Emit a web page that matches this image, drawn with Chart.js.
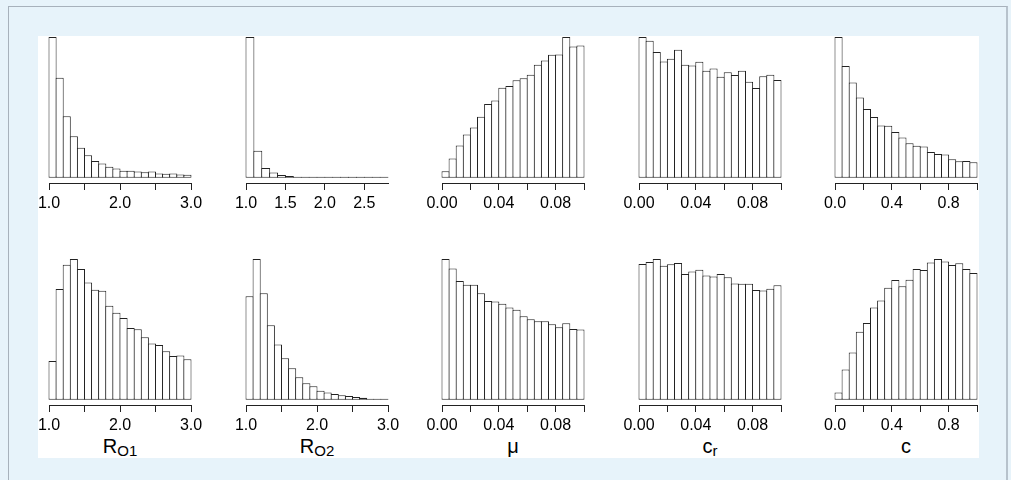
<!DOCTYPE html>
<html>
<head>
<meta charset="utf-8">
<script src="https://cdn.jsdelivr.net/npm/chart.js@4.4.0/dist/chart.umd.min.js"></script>
<style>
  html, body { margin:0; padding:0; background:#e7f3fa; width:1011px; height:480px; overflow:hidden; font-family:'Liberation Sans', Arial, sans-serif; }
  #frame { position:absolute; left:8px; top:6px; width:997px; height:520px; border-top:1px solid #a7b1bb; border-left:1px solid #a7b1bb; border-right:2px solid #b7c2cc; }
  #plot { position:absolute; left:38px; top:36px; width:941px; height:422px; background:#fff; }
  .xlab { position:absolute; width:142px; top:436px; text-align:center; font-size:20px; line-height:20px; color:#000; }
  .xlab sub { font-size:15px; vertical-align:baseline; position:relative; top:3px; }
</style>
</head>
<body>
<div id="frame"></div>
<div id="plot"></div>
<script>
// ==================== Dados ====================
// alturas relativas das barras (maior barra de cada painel = 100)
const topRO1 = [100, 71.0, 43.6, 29.5, 21.2, 16.0, 11.8, 10.1, 7.7, 6.5, 4.9, 4.9, 4.4, 3.8, 4.3, 3.0, 2.8, 3.0, 2.3, 2.0];
const topRO2 = [100, 19.2, 6.8, 3.6, 1.9, 1.2, 0.7, 0.5, 0.3, 0.2, 0.2, 0.1, 0.1, 0.1, 0.05, 0.05, 0.05, 0.05];
const topMu  = [4.5, 13.6, 22.9, 30.7, 35.7, 43.3, 52.4, 54.8, 64.0, 65.2, 69.3, 70.7, 73.1, 80.2, 83.3, 87.4, 87.6, 100, 93.3, 94.0];
const topCr  = [100, 97.4, 89.3, 82.6, 84.5, 91.0, 80.2, 79.8, 82.4, 76.0, 77.6, 71.7, 75.0, 72.9, 76.0, 68.1, 63.8, 72.1, 73.1, 69.5];
const topC   = [100, 79.3, 67.6, 56.9, 48.8, 43.1, 37.1, 36.9, 32.4, 28.6, 24.5, 22.6, 22.1, 18.3, 16.9, 16.4, 13.1, 11.7, 11.9, 11.0];

const botRO1 = [27.4, 78.6, 96.0, 100, 92.9, 83.3, 78.1, 77.4, 66.7, 61.7, 58.1, 51.0, 50.0, 44.3, 40.0, 38.8, 34.5, 31.0, 31.4, 28.8];
const botRO2 = [73.6, 100, 75.7, 52.9, 39.3, 29.5, 22.4, 16.0, 11.7, 9.5, 6.4, 5.0, 4.0, 3.1, 2.6, 1.9, 1.4, 0.7, 0.5, 0.2];
const botMu  = [100, 93.3, 84.3, 81.7, 81.7, 75.7, 70.2, 69.8, 68.1, 65.5, 64.0, 59.3, 57.1, 55.7, 55.7, 53.6, 51.4, 54.3, 50.2, 49.8];
const botCr  = [96.4, 97.9, 100, 95.2, 96.2, 97.1, 89.3, 91.2, 92.4, 88.3, 87.6, 89.3, 87.1, 82.6, 82.4, 82.4, 77.9, 77.6, 78.8, 81.4];
const botC   = [5.0, 21.4, 33.6, 48.3, 54.5, 65.5, 70.5, 79.5, 85.0, 80.7, 85.2, 92.9, 92.1, 97.6, 100, 98.3, 95.7, 96.9, 92.9, 90.0];

// ticks
const ticksR = [1.0, 1.5, 2.0, 2.5, 3.0];
const labelsR = ['1.0', '', '2.0', '', '3.0'];
const ticksR2 = [1.0, 1.5, 2.0, 2.5];
const labelsR2 = ['1.0', '1.5', '2.0', '2.5'];
const ticksSmall = [0, 0.02, 0.04, 0.06, 0.08, 0.10];
const labelsSmall = ['0.00', '', '0.04', '', '0.08', ''];
const ticksC = [0, 0.2, 0.4, 0.6, 0.8, 1.0];
const labelsC = ['0.0', '', '0.4', '', '0.8', ''];

// ==================== Layout ====================
const PANEL_W = 142;
const PAD = 20;
const AXIS_H = 30;
const Y_GAP = 3.8;
const COLS = [49, 246, 442, 639, 835];
const ROWS = [{ top: 37, bottom: 183 }, { top: 259, bottom: 405 }];
const FONT = "'Liberation Sans', Arial, sans-serif";
const LINE = '#222';

const paineis = [
  { col: 0, row: 0, values: topRO1, min: 1, max: 3,   ticks: ticksR,  labels: labelsR },
  { col: 1, row: 0, values: topRO2, min: 1, max: 2.8, ticks: ticksR2, labels: labelsR2 },
  { col: 2, row: 0, values: topMu,  min: 0, max: 0.1, ticks: ticksSmall, labels: labelsSmall },
  { col: 3, row: 0, values: topCr,  min: 0, max: 0.1, ticks: ticksSmall, labels: labelsSmall },
  { col: 4, row: 0, values: topC,   min: 0, max: 1,   ticks: ticksC,  labels: labelsC },
  { col: 0, row: 1, values: botRO1, min: 1, max: 3,   ticks: ticksR,  labels: labelsR, title: 'R<sub>O1</sub>' },
  { col: 1, row: 1, values: botRO2, min: 1, max: 3,   ticks: ticksR,  labels: labelsR, title: 'R<sub>O2</sub>' },
  { col: 2, row: 1, values: botMu,  min: 0, max: 0.1, ticks: ticksSmall, labels: labelsSmall, title: 'μ' },
  { col: 3, row: 1, values: botCr,  min: 0, max: 0.1, ticks: ticksSmall, labels: labelsSmall, title: 'c<sub>r</sub>' },
  { col: 4, row: 1, values: botC,   min: 0, max: 1,   ticks: ticksC,  labels: labelsC, title: 'c' }
];

// ==================== Render ====================
function desenharPainel(p) {
  const row = ROWS[p.row];
  const left = COLS[p.col];
  const w = PANEL_W + 2 * PAD;
  const h = row.bottom - row.top + AXIS_H;

  const canvas = document.createElement('canvas');
  canvas.width = w;
  canvas.height = h;
  canvas.style.cssText = `position:absolute;left:${left - PAD}px;top:${row.top}px;width:${w}px;height:${h}px`;
  document.body.appendChild(canvas);

  // barras um pixel mais largas, para que as bordas vizinhas se sobreponham
  const binW = PANEL_W / p.values.length;
  new Chart(canvas, {
    type: 'bar',
    data: {
      labels: p.values.map((_, i) => i),
      datasets: [{
        data: p.values,
        xAxisID: 'x', yAxisID: 'y',
        backgroundColor: '#fff',
        borderColor: LINE,
        borderWidth: 1,
        borderSkipped: false,
        barPercentage: (binW + 1) / binW, categoryPercentage: 1,
        minBarLength: 1,
        clip: false
      }]
    },
    options: {
      responsive: false, animation: false, events: [],
      layout: { padding: { left: PAD, right: PAD, top: 0, bottom: 0 } },
      plugins: { legend: { display: false }, tooltip: { enabled: false } },
      scales: {
        x: { type: 'category', display: false, offset: true },
        y: { display: false, min: -Y_GAP, max: 100 },
        eixo: {
          type: 'linear', position: 'bottom', min: p.min, max: p.max, offset: false,
          afterBuildTicks: ax => { ax.ticks = p.ticks.map(v => ({ value: v })); },
          afterFit: ax => { ax.height = AXIS_H; ax.paddingLeft = 0; ax.paddingRight = 0; },
          ticks: {
            autoSkip: false, maxRotation: 0, padding: 4, color: '#000',
            font: { family: FONT, size: 16 },
            callback: (v, i) => p.labels[i]
          },
          grid: { offset: false, drawOnChartArea: false, drawTicks: true, tickLength: 7, color: LINE, lineWidth: 1 },
          border: { display: true, color: LINE, width: 1 }
        }
      }
    }
  });

  if (p.title) {
    const div = document.createElement('div');
    div.className = 'xlab';
    div.style.left = left + 'px';
    div.innerHTML = p.title;
    document.body.appendChild(div);
  }
}

paineis.forEach(desenharPainel);
</script>
</body>
</html>
